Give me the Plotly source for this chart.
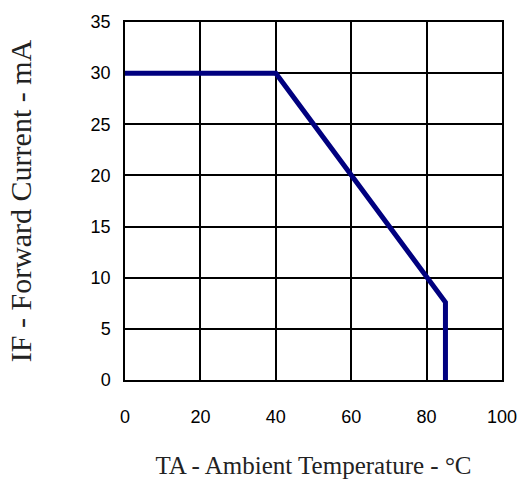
import plotly.graph_objects as go

# Derating curve: forward current vs ambient temperature
temp_c = [0, 40, 85, 85]
current_ma = [30, 30, 7.6, 0]

x_ticks = [0, 20, 40, 60, 80, 100]
y_ticks = [0, 5, 10, 15, 20, 25, 30, 35]

fig = go.Figure()
fig.add_trace(go.Scatter(
    x=temp_c, y=current_ma, mode="lines",
    line=dict(color="#00007f", width=5),
    showlegend=False, hoverinfo="skip",
))

axis_common = dict(
    showgrid=True, gridcolor="#000000", gridwidth=1.5,
    showline=True, linecolor="#000000", linewidth=1.5, mirror=True,
    zeroline=False, ticks="",
    tickfont=dict(family="Liberation Sans, Arial", size=18, color="#000000"),
)

fig.update_layout(
    width=529, height=487,
    margin=dict(l=125, r=20, t=18, b=104),
    paper_bgcolor="white", plot_bgcolor="white",
    xaxis=dict(
        range=[0, 100], tickvals=x_ticks, ticklabelstandoff=20,
        title=dict(text="TA - Ambient Temperature - °C",
                   font=dict(family="Liberation Serif, Times New Roman", size=25, color="#222222"),
                   standoff=30),
        **axis_common,
    ),
    yaxis=dict(
        range=[0, 35], tickvals=y_ticks, ticklabelstandoff=9,
        title=dict(text="IF - Forward Current - mA",
                   font=dict(family="Liberation Serif, Times New Roman", size=30, color="#222222"),
                   standoff=50),
        **axis_common,
    ),
)

fig.write_html("out.html", config={"displayModeBar": False},
               post_script="document.body.style.margin='0';")
